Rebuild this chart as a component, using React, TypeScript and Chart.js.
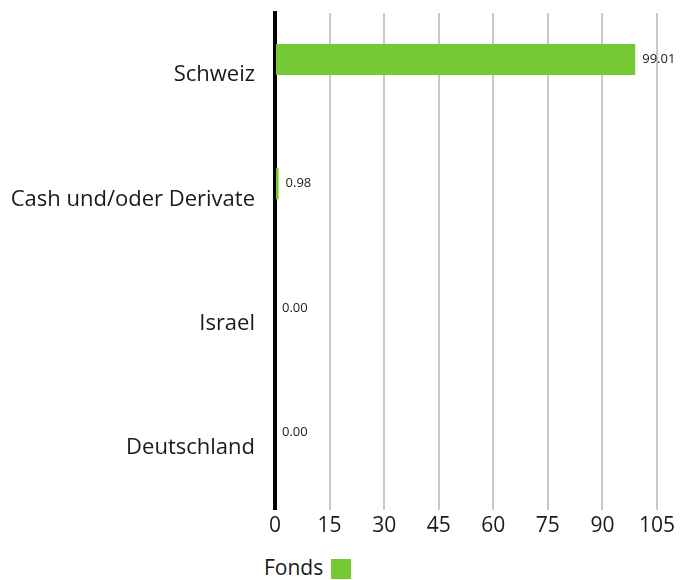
import React, { useEffect, useRef } from "react";
import { Chart, registerables } from "chart.js";

Chart.register(...registerables);

const categories: string[] = ["Schweiz", "Cash und/oder Derivate", "Israel", "Deutschland"];
const fondsValues: number[] = [99.01, 0.98, 0.0, 0.0];
const benchmarkValues: (number | null)[] = [null, null, null, null];
const seriesNames: string[] = ["Fonds", "Benchmark"];
const xMax = 105;
const xStep = 15;

const FONT = "'Open Sans', 'Noto Sans', sans-serif";
const GREEN = "#74c935";
const TEXT = "#1a1a1a";

const valueLabels = {
  id: "valueLabels",
  afterDatasetsDraw(chart: any) {
    const ctx = chart.ctx;
    const meta = chart.getDatasetMeta(0);
    const data = chart.data.datasets[0].data as number[];
    ctx.save();
    ctx.font = `13px ${FONT}`;
    ctx.fillStyle = TEXT;
    ctx.textAlign = "left";
    ctx.textBaseline = "middle";
    meta.data.forEach((el: any, i: number) => {
      const v = data[i];
      if (v === null || v === undefined) return;
      ctx.fillText(v.toFixed(2), el.x + 7, el.y);
    });
    ctx.restore();
  },
};

export default function App() {
  const ref = useRef<HTMLCanvasElement | null>(null);
  useEffect(() => {
    if (!ref.current) return;
    const chart = new Chart(ref.current, {
      type: "bar",
      data: {
        labels: categories,
        datasets: [
          {
            label: seriesNames[0],
            data: fondsValues,
            backgroundColor: GREEN,
            borderWidth: 0,
            categoryPercentage: 0.5,
            barPercentage: 1,
          },
          {
            label: seriesNames[1],
            data: benchmarkValues as any,
            backgroundColor: "#000000",
            borderWidth: 0,
            categoryPercentage: 0.5,
            barPercentage: 1,
          },
        ],
      },
      options: {
        indexAxis: "y",
        animation: false,
        responsive: true,
        maintainAspectRatio: false,
        layout: { padding: { top: 13, right: 23, bottom: 2, left: 0 } },
        plugins: {
          legend: { display: false },
          tooltip: { enabled: false },
        },
        scales: {
          x: {
            min: 0,
            max: xMax,
            ticks: {
              stepSize: xStep,
              color: TEXT,
              font: { family: FONT, size: 21 },
              padding: 4,
            },
            grid: { color: "#c8c8c8", lineWidth: 2, drawTicks: false },
            border: { display: false },
          },
          y: {
            afterFit(scale: any) {
              scale.width = 275;
              scale.paddingTop = 0;
              scale.paddingBottom = 0;
            },
            ticks: {
              color: TEXT,
              font: { family: FONT, size: 22 },
              padding: 20,
            },
            grid: { display: false, drawTicks: false },
            border: { display: true, color: "#000000", width: 4 },
          },
        },
      },
      plugins: [valueLabels],
    });
    return () => chart.destroy();
  }, []);

  return (
    <div style={{ position: "absolute", left: 0, top: 0, width: 680, height: 580, background: "#fff" }}>
      <div style={{ position: "absolute", left: 0, top: 0, width: 680, height: 545 }}>
        <canvas ref={ref} />
      </div>
      <div
        style={{
          position: "absolute",
          left: 264,
          top: 555,
          display: "flex",
          alignItems: "flex-end",
          fontFamily: FONT,
          fontSize: 21,
          color: TEXT,
          lineHeight: "25px",
        }}
      >
        <span>{seriesNames[0]}</span>
        <span style={{ display: "inline-block", width: 20, height: 20, background: GREEN, marginLeft: 8, marginBottom: 1 }} />
      </div>
    </div>
  );
}
